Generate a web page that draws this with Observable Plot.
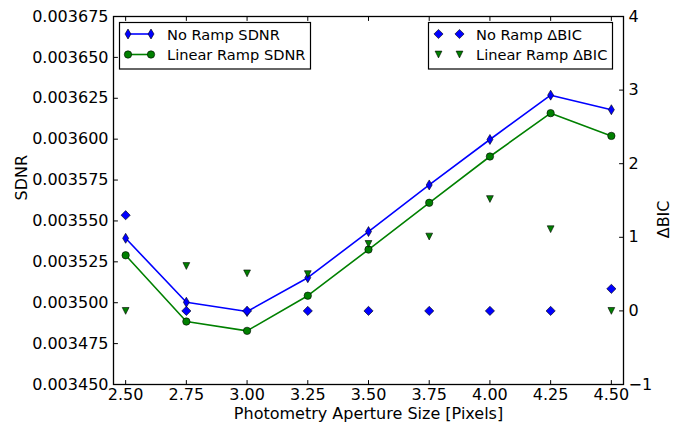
<!DOCTYPE html>
<html>
<head>
<meta charset="utf-8">
<script src="https://cdn.jsdelivr.net/npm/d3@7"></script>
<script src="https://cdn.jsdelivr.net/npm/@observablehq/plot@0.6"></script>
<style>
  body { margin: 0; background: #fff; }
  #chart { position: relative; width: 675px; height: 423px; font-family: "DejaVu Sans", sans-serif; }
  #chart > svg { position: absolute; left: 0; top: 0; }
</style>
</head>
<body>
<div id="chart"></div>
<script>
// Photometry aperture sizes (pixels)
const aperture = [2.50, 2.75, 3.00, 3.25, 3.50, 3.75, 4.00, 4.25, 4.50];
// SDNR of the light-curve fits
const sdnrNoRamp     = [0.0035394, 0.0035003, 0.0034946, 0.0035153, 0.0035435, 0.0035720, 0.0035998, 0.0036269, 0.0036180];
const sdnrLinearRamp = [0.0035290, 0.0034885, 0.0034828, 0.0035043, 0.0035325, 0.0035611, 0.0035894, 0.0036159, 0.0036020];
// Delta BIC of each model
const dbicNoRamp     = [1.30, 0, 0, 0, 0, 0, 0, 0, 0.30];
const dbicLinearRamp = [0, 0.61, 0.51, 0.50, 0.91, 1.01, 1.52, 1.11, 0];
// Tick values
const xTicks = [2.50, 2.75, 3.00, 3.25, 3.50, 3.75, 4.00, 4.25, 4.50];
const sdnrTicks = [0.003450, 0.003475, 0.003500, 0.003525, 0.003550, 0.003575, 0.003600, 0.003625, 0.003650, 0.003675];
const dbicTicks = [-1, 0, 1, 2, 3, 4];
// Legend labels
const sdnrLabels = ["No Ramp SDNR", "Linear Ramp SDNR"];
const dbicLabels = ["No Ramp \u0394BIC", "Linear Ramp \u0394BIC"];

const rows = aperture.map((x, i) => ({
  x,
  sdnrNoRamp: sdnrNoRamp[i],
  sdnrLinearRamp: sdnrLinearRamp[i],
  dbicNoRamp: dbicNoRamp[i],
  dbicLinearRamp: dbicLinearRamp[i]
}));

const BLUE = "#0000ff", GREEN = "#008000";
const FONT = "DejaVu Sans";

// marker shapes (size = pi * r^2, so s is the dot radius)
const rad = size => Math.sqrt(size / Math.PI);
const thinDiamond = { draw(c, size) { const s = rad(size); c.moveTo(0, -s); c.lineTo(0.6 * s, 0); c.lineTo(0, s); c.lineTo(-0.6 * s, 0); c.closePath(); } };
const diamond     = { draw(c, size) { const s = rad(size); c.moveTo(0, -s); c.lineTo(s, 0); c.lineTo(0, s); c.lineTo(-s, 0); c.closePath(); } };
const circle      = { draw(c, size) { const s = rad(size); c.moveTo(s, 0); c.arc(0, 0, s, 0, 2 * Math.PI); c.closePath(); } };
const triDown     = { draw(c, size) { const s = rad(size); c.moveTo(0, s); c.lineTo(-s, -s); c.lineTo(s, -s); c.closePath(); } };

// inward-pointing tick marks
const inward = (dx, dy) => ({ draw(c, l) { c.moveTo(0, 0); c.lineTo(dx * l, dy * l); } });
const tickOpts = { anchor: "start", length: 4, stroke: "black", strokeWidth: 1 };

const common = {
  width: 675, height: 423,
  marginTop: 16, marginRight: 52, marginBottom: 39, marginLeft: 113,
  style: { fontFamily: FONT, fontSize: "16px", color: "black", background: "none", overflow: "visible" }
};

// primary axes: SDNR
const sdnrPlot = Plot.plot({
  ...common,
  x: { domain: [2.45, 4.55] },
  y: { domain: [0.003450, 0.003675] },
  marks: [
    Plot.axisX(xTicks, { tickSize: 0, tickPadding: 4, tickFormat: d3.format(".2f"), label: null, fontSize: 16 }),
    Plot.axisY(sdnrTicks, { tickSize: 0, tickPadding: 5, tickFormat: d3.format(".6f"), label: null, fontSize: 16 }),
    Plot.vectorX(xTicks, { ...tickOpts, frameAnchor: "bottom", shape: inward(0, -1) }),
    Plot.vectorX(xTicks, { ...tickOpts, frameAnchor: "top", shape: inward(0, 1) }),
    Plot.vectorY(sdnrTicks, { ...tickOpts, frameAnchor: "left", shape: inward(1, 0) }),
    Plot.line(rows, { x: "x", y: "sdnrNoRamp", stroke: BLUE, strokeWidth: 1.6 }),
    Plot.dot(rows, { x: "x", y: "sdnrNoRamp", symbol: thinDiamond, r: 5, fill: BLUE, stroke: "black", strokeWidth: 0.6 }),
    Plot.line(rows, { x: "x", y: "sdnrLinearRamp", stroke: GREEN, strokeWidth: 1.6 }),
    Plot.dot(rows, { x: "x", y: "sdnrLinearRamp", symbol: circle, r: 3.7, fill: GREEN, stroke: "black", strokeWidth: 0.6 }),
    Plot.text(["Photometry Aperture Size [Pixels]"], { text: d => d, frameAnchor: "bottom", dy: 29, lineAnchor: "middle", fontSize: 16 }),
    Plot.text(["SDNR"], { text: d => d, frameAnchor: "left", rotate: -90, dx: -92, lineAnchor: "middle", fontSize: 16 })
  ]
});
sdnrPlot.style.background = "white";

// twin axes: Delta BIC (shares the x scale, no x axis of its own)
const dbicPlot = Plot.plot({
  ...common,
  x: { domain: [2.45, 4.55], axis: null },
  y: { domain: [-1, 4] },
  marks: [
    Plot.axisY(dbicTicks, { anchor: "right", tickSize: 0, tickPadding: 5, tickFormat: d3.format("d"), label: null, fontSize: 16 }),
    Plot.vectorY(dbicTicks, { ...tickOpts, frameAnchor: "right", shape: inward(-1, 0) }),
    Plot.dot(rows, { x: "x", y: "dbicNoRamp", symbol: diamond, r: 4.6, fill: BLUE, stroke: "black", strokeWidth: 0.6 }),
    Plot.dot(rows, { x: "x", y: "dbicLinearRamp", symbol: triDown, r: 3.4, fill: GREEN, stroke: "black", strokeWidth: 0.6 }),
    Plot.frame({ stroke: "black", strokeWidth: 1.3 }),
    Plot.text(["\u0394BIC"], { text: d => d, frameAnchor: "right", rotate: -90, dx: 40, lineAnchor: "middle", fontSize: 16 })
  ]
});

const chart = document.getElementById("chart");
chart.appendChild(sdnrPlot);
chart.appendChild(dbicPlot);

// legends
const leg = d3.create("svg").attr("width", 675).attr("height", 423)
  .style("overflow", "visible").attr("font-family", FONT).attr("font-size", 14.6);

function legendBox(x, y, w, h) {
  leg.append("rect").attr("x", x).attr("y", y).attr("width", w).attr("height", h)
    .attr("fill", "white").attr("stroke", "black").attr("stroke-width", 1.2);
}
function marker(sym, r, fill, x, y) {
  leg.append("path").attr("d", d3.symbol(sym, Math.PI * r * r)())
    .attr("transform", `translate(${x},${y})`).attr("fill", fill)
    .attr("stroke", "black").attr("stroke-width", 0.6);
}
function label(text, x, y) {
  leg.append("text").attr("x", x).attr("y", y).attr("dominant-baseline", "central").text(text);
}

// SDNR legend (upper left)
legendBox(119.5, 22.5, 191, 46.5);
[[thinDiamond, 5, BLUE, 34], [circle, 3.7, GREEN, 54.5]].forEach(([sym, r, col, y], i) => {
  leg.append("line").attr("x1", 128).attr("x2", 151).attr("y1", y).attr("y2", y)
    .attr("stroke", col).attr("stroke-width", 1.6);
  marker(sym, r, col, 128, y);
  marker(sym, r, col, 151, y);
  label(sdnrLabels[i], 167, y);
});

// Delta BIC legend (upper right)
legendBox(428.5, 22.5, 184, 46.5);
[[diamond, 4.6, BLUE, 34], [triDown, 3.4, GREEN, 54.5]].forEach(([sym, r, col, y], i) => {
  marker(sym, r, col, 438.5, y);
  marker(sym, r, col, 459.5, y);
  label(dbicLabels[i], 476, y);
});

chart.appendChild(leg.node());
</script>
</body>
</html>
